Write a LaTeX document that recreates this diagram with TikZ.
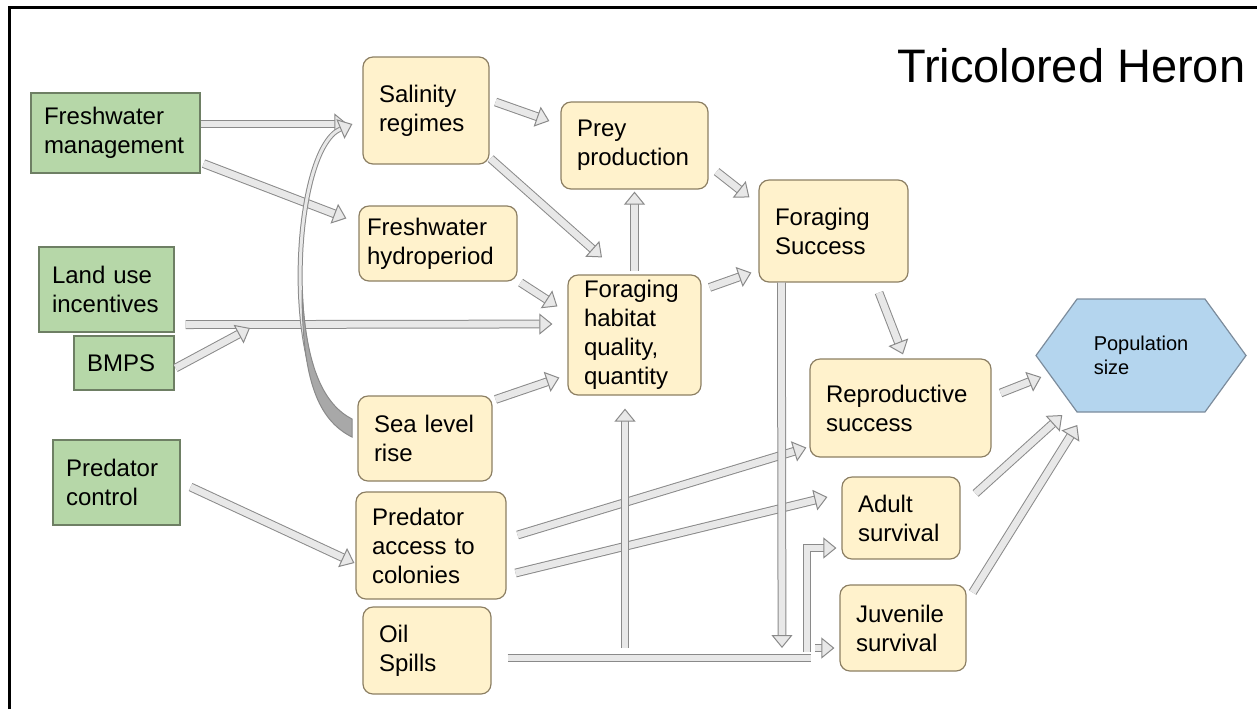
\documentclass[tikz,border=0pt]{standalone}
\usepackage{fontspec}
\setmainfont{Liberation Sans}
\usepackage{tikz}
\usetikzlibrary{arrows.meta}
\usetikzlibrary{shapes.symbols}
\usepackage{xcolor}
\definecolor{mgmtgreen}{HTML}{B6D7A8}
\definecolor{mgmtline}{HTML}{6E7F64}
\definecolor{factorfill}{HTML}{FFF2CC}
\definecolor{factorline}{HTML}{8C7F63}
\definecolor{popblue}{HTML}{B4D5EE}
\definecolor{popline}{HTML}{7C8C9C}
\definecolor{flowfill}{HTML}{E8E8E8}
\definecolor{flowline}{HTML}{8A8A8A}
\definecolor{flowshade}{HTML}{A8A8A8}
\newcommand{\bodyfont}{\fontsize{12}{14.5}\selectfont}
\newcommand{\popfont}{\fontsize{10}{12}\selectfont}

\tikzset{
  mgmt/.style={rectangle, draw=mgmtline, fill=mgmtgreen, line width=0.6pt,
    align=left, inner xsep=6.5pt, inner ysep=0pt, font=\bodyfont},
  factor/.style={rectangle, rounded corners=5pt, draw=factorline, fill=factorfill,
    line width=0.6pt, align=left, inner xsep=8pt, inner ysep=0pt, font=\bodyfont},
  popnode/.style={signal, signal to=east and west, signal pointer angle=108,
    minimum width=105pt, minimum height=56.5pt, draw=popline, fill=popblue,
    line width=0.6pt, align=left, inner sep=0pt, font=\popfont},
  flow/.style={draw=flowline, line width=0.5pt, double=flowfill, double distance=3.4pt,
    arrows=-{Triangle[width=10.5pt,length=6.5pt,fill=flowfill,line width=0.5pt]}},
  flowbar/.style={draw=flowline, line width=0.5pt, double=flowfill, double distance=3.4pt},
}

\begin{document}
\begin{tikzpicture}[x=0.5pt,y=-0.5pt]
\useasboundingbox (0,0) rectangle (1257,709);
\draw[line width=1.5pt] (9,709) -- (9,7.5) -- (1257,7.5);

\node[anchor=base west, font=\fontsize{23.5}{28}\selectfont] (title) at (890,82) {Tricolored Heron};

% management actions
\node[mgmt, text width=71.5pt, minimum height=40pt] (fwm) at (115.5,133) {Freshwater\\management};
\node[mgmt, text width=54.5pt, minimum height=42.5pt] (land) at (106.5,289.5) {Land use\\incentives};
\node[mgmt, text width=37pt, minimum height=27pt] (bmps) at (124,363) {BMPS};
\node[mgmt, text width=50.5pt, minimum height=42.5pt] (pctl) at (116.5,482.5) {Predator\\control};

% factors
\node[factor, text width=47pt, minimum height=53.5pt] (sal) at (426,110.5) {Salinity\\regimes};
\node[factor, inner xsep=4pt, text width=71pt, minimum height=37.5pt] (hyd) at (438,243.5) {Freshwater\\hydroperiod};
\node[factor, text width=51pt, minimum height=42.5pt] (sea) at (425,438.5) {Sea level\\rise};
\node[factor, text width=59pt, minimum height=53.5pt] (pac) at (431,545.5) {Predator\\access to\\colonies};
\node[factor, text width=48pt, minimum height=43.5pt] (oil) at (427,650.5) {Oil\\Spills};
\node[factor, text width=57.5pt, minimum height=43.5pt] (prey) at (634.5,145.5) {Prey\\production};
\node[factor, text width=50.5pt, minimum height=60pt] (hab) at (634.5,335) {Foraging\\habitat\\quality,\\quantity};
\node[factor, text width=58.5pt, minimum height=51pt] (fs) at (833.5,231) {Foraging\\Success};
\node[factor, text width=74.5pt, minimum height=49pt] (rep) at (900.5,408) {Reproductive\\success};
\node[factor, text width=43pt, minimum height=41pt] (adult) at (901,518) {Adult\\survival};
\node[factor, text width=47pt, minimum height=43pt] (juv) at (903,628) {Juvenile\\survival};

\node[popnode] (pop) at (1141,355.5) {Population\\size};

\coordinate (landbar) at (250,328);
\coordinate (fsfoot) at (782,648);
\coordinate (oilend) at (811,658);
\coordinate (oilrise) at (807,652);
\coordinate (juvfeed) at (815,648);
\coordinate (habfeed) at (625,648);

% links
\draw[flow] ([yshift=4.5pt]fwm.east) -- ([xshift=-7.5pt,yshift=-6.75pt]sal.west);
\draw[flow] ([xshift=1.5pt,yshift=5pt]fwm.south east) -- ([xshift=-6pt,yshift=-6.5pt]hyd.north west);
\draw[flow] ([xshift=5.5pt,yshift=4pt]land.south east) -- ([xshift=-7.5pt,yshift=5.5pt]hab.west);
\draw[flow] ([xshift=0.5pt,yshift=-2.5pt]bmps.east) -- (landbar);
\draw[flow] ([xshift=3pt,yshift=4.25pt]sal.east) -- ([xshift=-5.5pt,yshift=12.25pt]prey.west);
\draw[flow] ([xshift=0.5pt,yshift=3pt]sal.south east) -- ([xshift=-16.25pt,yshift=8.5pt]hab.north);
\draw[flow] ([xshift=1.5pt,yshift=-0.5pt]hyd.south east) -- ([xshift=-5pt,yshift=-16pt]hab.north west);
\draw[flow] ([xshift=4pt,yshift=9pt]prey.south east) -- ([xshift=-4.5pt,yshift=-9pt]fs.north west);
\draw[flow] ([xshift=4pt,yshift=-6.5pt]hab.north east) -- ([xshift=-3.5pt,yshift=5pt]fs.south west);
\draw[flow] ([xshift=1.5pt,yshift=-2pt]sea.north east) -- ([xshift=-4pt,yshift=9pt]hab.south west);
\draw[flow] ([xshift=22.75pt,yshift=-5pt]fs.south) -- ([xshift=1.25pt,yshift=2pt]rep.north);
\draw[flow] ([xshift=5pt,yshift=-2.25pt]pctl.east) -- ([xshift=-0.5pt,yshift=-8.75pt]pac.west);
\draw[flow] ([xshift=5.5pt,yshift=5.25pt]pac.east) -- ([xshift=-1.5pt,yshift=5pt]rep.south west);
\draw[flow] ([xshift=4.5pt,yshift=-13.75pt]pac.east) -- ([xshift=-7pt,yshift=10.5pt]adult.west);
\draw[flow] ([xshift=4.5pt,yshift=7.5pt]rep.east) -- ([xshift=3pt,yshift=-10.75pt]pop.west);
\draw[flow] ([xshift=7.5pt,yshift=-8.5pt]adult.north east) -- ([xshift=13.5pt,yshift=-29.75pt]pop.west);
\draw[flow] ([xshift=3pt,yshift=-4pt]juv.north east) -- ([xshift=21pt,yshift=-34.75pt]pop.west);
\draw[flowbar] ([xshift=8pt,yshift=-3.75pt]oil.east) -- (oilend);
\draw[flow] (oilrise) |- ([xshift=-2.5pt,yshift=-15pt]adult.west);
\draw[flow] (juvfeed) -- ([xshift=-2.5pt,yshift=-10pt]juv.west);
\draw[flow] (habfeed) -- ([xshift=-4.75pt,yshift=-6.5pt]hab.south);
\draw[flow] ([xshift=11.5pt]fs.south west) -- (fsfoot);
\draw[flow] ([yshift=1.5pt]hab.north) -- ([yshift=-1pt]prey.south);
% sea level -> salinity, curved
\draw[flow, double distance=1.5pt] ([xshift=-3.5pt,yshift=6.75pt]sea.west) .. controls (280,400) and (290,150) .. ([xshift=-5pt,yshift=-6.75pt]sal.west);
\filldraw[fill=flowshade, draw=flowline, line width=0.5pt] (352,419) .. controls (325,405) and (306,370) .. (302,290) .. controls (302,380) and (318,420) .. (352,437) -- cycle;
\end{tikzpicture}
\end{document}
